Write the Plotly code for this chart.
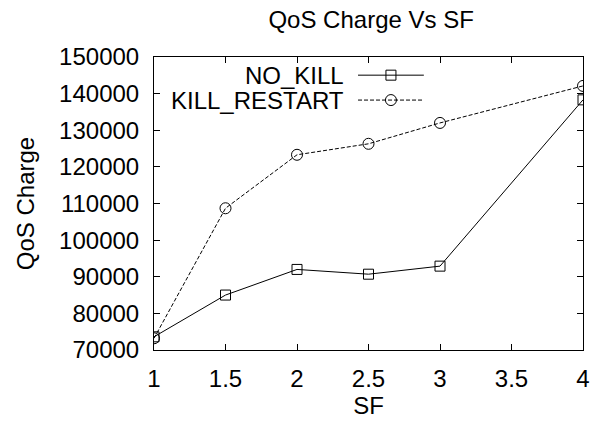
import plotly.graph_objects as go

sf = [1, 1.5, 2, 2.5, 3, 4]
no_kill = [73600, 85000, 92000, 90700, 92900, 138300]
kill_restart = [73200, 108700, 123300, 126300, 132000, 142100]
series_names = ["NO_KILL", "KILL_RESTART"]
x_ticks = [1, 1.5, 2, 2.5, 3, 3.5, 4]
y_ticks = list(range(70000, 150001, 10000))

FONT = "Liberation Sans, Arial, sans-serif"
FS = 24

fig = go.Figure()
fig.add_trace(go.Scatter(x=sf, y=no_kill, mode="lines+markers", name=series_names[0],
                         line=dict(color="black", width=1),
                         marker=dict(symbol="square-open", size=10, color="black", line=dict(width=1)),
                         showlegend=False))
fig.add_trace(go.Scatter(x=sf, y=kill_restart, mode="lines+markers", name=series_names[1],
                         line=dict(color="black", width=1, dash="4px,2px"),
                         marker=dict(symbol="circle-open", size=11, color="black", line=dict(width=1)),
                         showlegend=False))

# gnuplot-style key (text right-aligned, sample to the right) on an overlay axis
key_rows = [(0.938, series_names[0], "solid", "square-open", 10),
            (0.853, series_names[1], "4px,2px", "circle-open", 11)]
for ky, name, dash, sym, msz in key_rows:
    fig.add_trace(go.Scatter(x=[0.4756, 0.629], y=[ky, ky], mode="lines", xaxis="x2", yaxis="y2",
                             line=dict(color="black", width=1, dash=dash), showlegend=False,
                             hoverinfo="skip"))
    fig.add_trace(go.Scatter(x=[0.5523], y=[ky], mode="markers", xaxis="x2", yaxis="y2",
                             marker=dict(symbol=sym, size=msz, color="black", line=dict(width=1)),
                             showlegend=False, hoverinfo="skip"))
    fig.add_annotation(x=0.448, y=ky, xref="paper", yref="paper", text=name, showarrow=False,
                       xanchor="right", yanchor="middle", font=dict(family=FONT, size=FS, color="black"))

axis_common = dict(showgrid=False, zeroline=False, showline=True, linecolor="black", linewidth=1,
                   mirror="ticks", ticks="inside", ticklen=6, tickcolor="black", tickwidth=1,
                   tickfont=dict(family=FONT, size=FS, color="black"))

fig.update_layout(
    width=602, height=427,
    margin=dict(l=154, r=14, t=57, b=75),
    paper_bgcolor="white", plot_bgcolor="white",
    title=dict(text="QoS Charge Vs SF", x=0.6165, xanchor="center", y=0.955, yanchor="middle",
               font=dict(family=FONT, size=FS, color="black")),
    xaxis=dict(range=[1, 4], tickvals=x_ticks, ticktext=[f"{v:g}" for v in x_ticks],
               title=dict(text="SF", font=dict(family=FONT, size=FS, color="black"), standoff=6),
               ticklabelstandoff=7, **axis_common),
    yaxis=dict(range=[70000, 150000], tickvals=y_ticks, ticktext=[str(v) for v in y_ticks],
               title=dict(text="QoS Charge", font=dict(family=FONT, size=FS, color="black"), standoff=17),
               ticklabelstandoff=9, **axis_common),
    xaxis2=dict(overlaying="x", range=[0, 1], visible=False),
    yaxis2=dict(overlaying="y", range=[0, 1], visible=False),
)

fig.write_html("out.html")
